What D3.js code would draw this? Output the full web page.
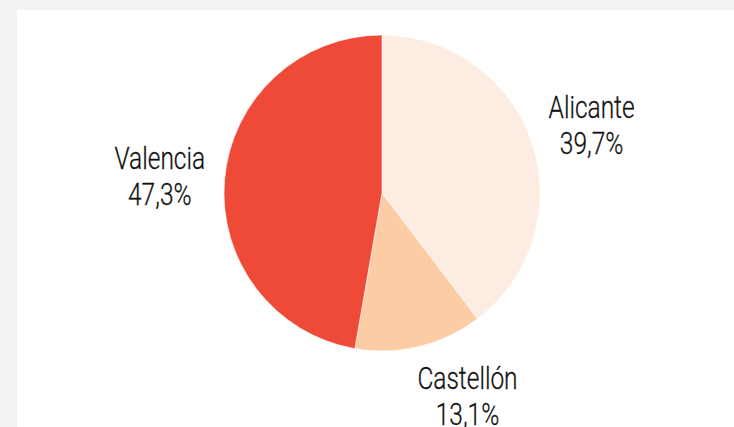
<!DOCTYPE html>
<html>
<head>
<meta charset="utf-8">
<script src="https://cdn.jsdelivr.net/npm/d3@7"></script>
<style>
  html, body { margin: 0; padding: 0; background: #f2f2f2; }
  #chart { position: absolute; left: 17px; top: 10px; width: 717px; height: 417px; background: #fff; }
  text { font-family: Roboto, "Liberation Sans", sans-serif; font-weight: 300; fill: #111; }
</style>
</head>
<body>
<div id="chart"></div>
<script>
// data
const provinces = ["Alicante", "Castellón", "Valencia"];
const shares = [39.7, 13.1, 47.3];
const sliceColors = ["#fdece1", "#fccca4", "#ee4a37"];

const data = provinces.map((name, i) => ({ name, value: shares[i], color: sliceColors[i] }));

// set up svg
const width = 717, height = 417;
const radius = 158;
const cx = 365, cy = 183;

const svg = d3.select("#chart").append("svg")
  .attr("width", width)
  .attr("height", height);

const g = svg.append("g").attr("transform", `translate(${cx},${cy})`);

const pie = d3.pie().value(d => d.value).sort(null);
const arc = d3.arc().innerRadius(0).outerRadius(radius);
const labelArc = d3.arc().innerRadius(218).outerRadius(218);

const arcs = pie(data);

g.selectAll("path.slice")
  .data(arcs)
  .enter()
  .append("path")
  .attr("class", "slice")
  .attr("d", arc)
  .attr("fill", d => d.data.color)
  .attr("stroke", "#fff")
  .attr("stroke-width", 0.6);

// small hand tweaks so labels sit where the original put them
const nudge = { "Alicante": [3, -5], "Castellón": [34, -16], "Valencia": [-5, -5] };
const fmt = v => d3.format(".1f")(v).replace(".", ",") + "%";

// condensed look: squeeze the text horizontally
const labels = g.selectAll("text.label")
  .data(arcs)
  .enter()
  .append("text")
  .attr("class", "label")
  .attr("text-anchor", "middle")
  .attr("font-size", 31)
  .attr("stroke", "#111")
  .attr("stroke-width", 0.3)
  .attr("transform", d => {
    const [x, y] = labelArc.centroid(d);
    const [dx, dy] = nudge[d.data.name];
    return `translate(${x + dx},${y + dy}) scale(0.79,1)`;
  });

labels.append("tspan").attr("x", 0).attr("y", 0).text(d => d.data.name);
labels.append("tspan").attr("x", 0).attr("y", 36).text(d => fmt(d.data.value));
</script>
</body>
</html>
